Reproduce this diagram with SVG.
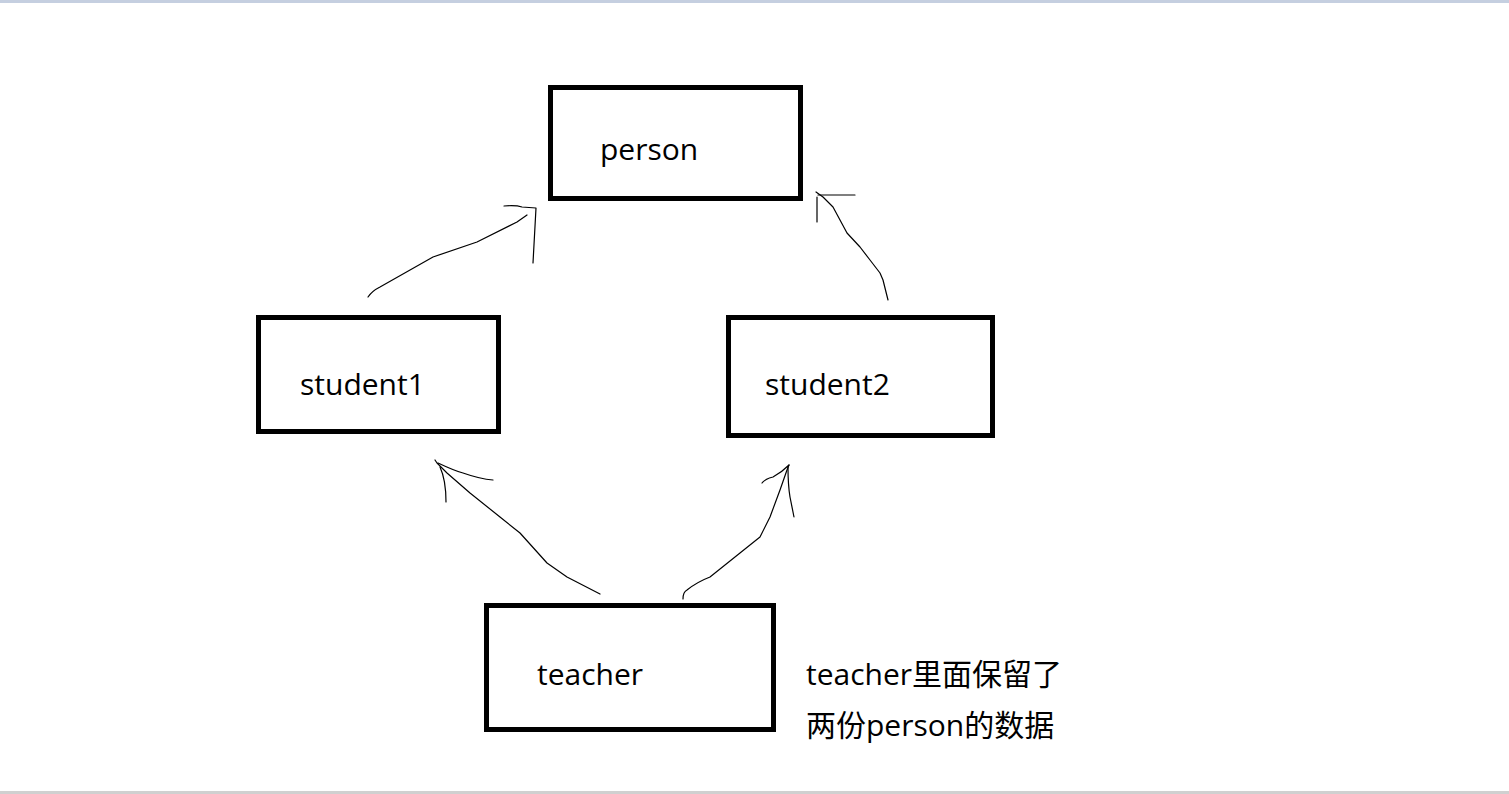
<svg xmlns="http://www.w3.org/2000/svg" width="1509" height="794" viewBox="0 0 1509 794">
<style>
.box{fill:#fff;stroke:#000;stroke-width:5}
.lbl{font-family:"Open Sans","Noto Sans CJK SC",sans-serif;font-size:30px;fill:#000}
.ink{fill:none;stroke:#000;stroke-width:1.2;stroke-linecap:round;stroke-linejoin:round}
</style>
<rect x="0" y="0" width="1509" height="794" fill="#fff"/>
<rect x="0" y="0" width="1509" height="3" fill="#c5cfe0"/>
<rect x="0" y="791" width="1509" height="3" fill="#d0d0d0"/>
<g id="connectors">
<path class="ink" d="M368,297 Q372,291 380,287 L433,257 L477,242 L517,222 L527,215"/>
<path class="ink" d="M504,206 Q516,205 522,207 L536,208 L533,263"/>
<path class="ink" d="M888,300 L883,280 L880,273 L870,260 L860,247 L847,233 L833,207 L823,197 L816,192"/>
<path class="ink" d="M818,195 L855,195 M817,197 L817,222"/>
<path class="ink" d="M600,594 L567,577 L547,563 L520,533 L500,517 L470,493 L447,473 L437,463 L435,460"/>
<path class="ink" d="M438,463 Q455,471 463,473 Q480,479 493,480 M440,467 Q446,480 446,502"/>
<path class="ink" d="M683,599 Q683,592 687,590 Q697,582 710,577 L740,553 L760,537 L770,517 L780,490 L787,470 L789,465"/>
<path class="ink" d="M789,465 Q782,472 773,477 Q765,479 762,483 M788,467 Q788,485 790,497 L794,517"/>
</g>
<g id="person">
<rect class="box" x="550.5" y="87.5" width="250" height="111"/>
<text class="lbl" x="600" y="160">person</text>
</g>
<g id="student1">
<rect class="box" x="258.5" y="317.5" width="240" height="114"/>
<text class="lbl" x="300" y="395">student1</text>
</g>
<g id="student2">
<rect class="box" x="728.5" y="317.5" width="264" height="118"/>
<text class="lbl" x="765" y="395">student2</text>
</g>
<g id="teacher">
<rect class="box" x="486.5" y="605.5" width="287" height="124"/>
<text class="lbl" x="537" y="685">teacher</text>
</g>
<g id="note">
<text class="lbl" x="806" y="685">teacher里面保留了</text>
<text class="lbl" x="806" y="736">两份person的数据</text>
</g>
</svg>
